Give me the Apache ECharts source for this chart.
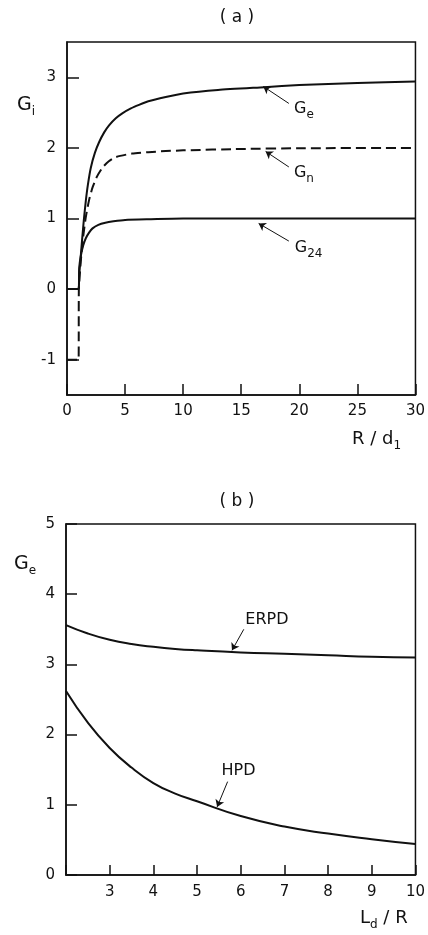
<!DOCTYPE html>
<html>
<head>
<meta charset="utf-8">
<script src="https://cdn.jsdelivr.net/npm/echarts@6/dist/echarts.min.js"></script>
<style>
  html, body { margin: 0; padding: 0; background: #fff; }
  #main { width: 428px; height: 935px; }
</style>
</head>
<body>
<div id="main"></div>
<script>
// panel (a): G_i vs R/d1
var geData  = [[0,0],[1,0],[1.05,0.2],[1.15,0.4],[1.3,0.7],[1.45,0.98],[1.62,1.25],[1.8,1.48],[2.05,1.72],[2.4,1.93],[2.76,2.08],[3.2,2.22],[3.62,2.32],[4.2,2.42],[4.76,2.49],[5.5,2.56],[6.2,2.61],[7,2.66],[8.5,2.72],[10,2.77],[13,2.82],[17,2.86],[20,2.89],[25,2.92],[30,2.94]];
var gnData  = [[0,-1],[1,-1],[1.02,0],[1.1,0.2],[1.2,0.42],[1.4,0.75],[1.62,1.02],[1.9,1.26],[2.2,1.44],[2.6,1.6],[3.05,1.72],[3.6,1.81],[4.2,1.87],[5.6,1.92],[7,1.94],[8.5,1.955],[10,1.965],[15,1.985],[20,1.995],[30,2]];
var g24Data = [[0,0],[1,0],[1.05,0.3],[1.2,0.48],[1.4,0.62],[1.62,0.72],[1.9,0.8],[2.2,0.86],[2.7,0.91],[3.3,0.94],[4,0.96],[5,0.98],[7,0.99],[10,1],[30,1]];
var ticksA  = [-1, 0, 1, 2, 3];

// panel (b): G_e vs Ld/R
var ldR  = [2, 2.5, 3, 3.5, 4, 4.5, 5, 6, 7, 8, 9, 10];
var erpd = [3.56, 3.44, 3.35, 3.29, 3.25, 3.22, 3.20, 3.17, 3.15, 3.13, 3.11, 3.10];
var hpd  = [2.62, 2.17, 1.81, 1.53, 1.31, 1.16, 1.05, 0.84, 0.69, 0.59, 0.51, 0.44];

var FONT = 'DejaVu Sans';
var myChart = echarts.init(document.getElementById('main'));

function pairs(xs, ys){
	var out = [];
	for (var i = 0; i < xs.length; i++) out.push([xs[i], ys[i]]);
	return out;
}

var rich = {
	m: {fontFamily: FONT, fontSize: 16, color: '#111', verticalAlign: 'top'},
	s: {fontFamily: FONT, fontSize: 12, color: '#111', verticalAlign: 'top', padding: [8, 0, 0, 0]}
};

function arrow(from, to){
	return {
		silent: true, symbol: ['none', 'arrow'], symbolSize: 7,
		lineStyle: {color: '#111', width: 1, type: 'solid'},
		label: {show: false},
		data: [[{coord: from}, {coord: to}]]
	};
}
function tag(pos, text){
	return {
		silent: true, symbol: 'circle', symbolSize: 0,
		label: {show: true, position: 'inside', formatter: text, rich: rich},
		data: [{coord: pos}]
	};
}

var axisText = {color: '#111', fontFamily: FONT, fontSize: 15};
var blackLine = {color: '#111', width: 1.5};

option = {
	animation: false,
	grid: [
		{left: 67, top: 42, right: 10, height: 353, show: true, borderColor: '#111', borderWidth: 1.5},
		{left: 66, top: 524, right: 10, height: 351, show: true, borderColor: '#111', borderWidth: 1.5}
	],
	xAxis: [
		{gridIndex: 0, type: 'value', min: 0, max: 30, interval: 5,
		 axisLine: {onZero: false, lineStyle: blackLine},
		 axisTick: {inside: true, length: 11, lineStyle: blackLine},
		 axisLabel: Object.assign({margin: 9}, axisText),
		 splitLine: {show: false}},
		{gridIndex: 1, type: 'value', min: 2, max: 10, interval: 1,
		 axisLine: {onZero: false, lineStyle: blackLine},
		 axisTick: {inside: true, length: 10, lineStyle: blackLine},
		 axisLabel: Object.assign({margin: 10, formatter: function(v){ return v === 2 ? '' : v; }}, axisText),
		 splitLine: {show: false}}
	],
	yAxis: [
		{gridIndex: 0, type: 'value', min: -1.5, max: 3.5,
		 axisLine: {onZero: false, lineStyle: blackLine},
		 axisTick: {inside: true, length: 12, customValues: ticksA, lineStyle: blackLine},
		 axisLabel: Object.assign({margin: 11, customValues: ticksA}, axisText),
		 splitLine: {show: false}},
		{gridIndex: 1, type: 'value', min: 0, max: 5, interval: 1,
		 axisLine: {onZero: false, lineStyle: blackLine},
		 axisTick: {inside: true, length: 11, lineStyle: blackLine},
		 axisLabel: Object.assign({margin: 11}, axisText),
		 splitLine: {show: false}}
	],
	series: [
		{name: 'Ge', type: 'line', xAxisIndex: 0, yAxisIndex: 0, data: geData,
		 showSymbol: false, smooth: 0.2, lineStyle: {color: '#111', width: 2},
		 markLine: arrow([19.1, 2.63], [16.9, 2.87]),
		 markPoint: tag([20.4, 2.52], '{m|G}{s|e}')},
		{name: 'Gn', type: 'line', xAxisIndex: 0, yAxisIndex: 0, data: gnData,
		 showSymbol: false, smooth: 0.2, lineStyle: {color: '#111', width: 2, type: [10, 5]},
		 markLine: arrow([19.1, 1.73], [17.1, 1.95]),
		 markPoint: tag([20.4, 1.62], '{m|G}{s|n}')},
		{name: 'G24', type: 'line', xAxisIndex: 0, yAxisIndex: 0, data: g24Data,
		 showSymbol: false, smooth: 0.2, lineStyle: {color: '#111', width: 2},
		 markLine: arrow([19.1, 0.68], [16.5, 0.93]),
		 markPoint: tag([20.8, 0.55], '{m|G}{s|24}')},
		{name: 'ERPD', type: 'line', xAxisIndex: 1, yAxisIndex: 1, data: pairs(ldR, erpd),
		 showSymbol: false, smooth: true, lineStyle: {color: '#111', width: 2},
		 markLine: arrow([6.07, 3.5], [5.8, 3.2]),
		 markPoint: tag([6.6, 3.64], '{m|ERPD}')},
		{name: 'HPD', type: 'line', xAxisIndex: 1, yAxisIndex: 1, data: pairs(ldR, hpd),
		 showSymbol: false, smooth: true, lineStyle: {color: '#111', width: 2},
		 markLine: arrow([5.7, 1.33], [5.46, 0.97]),
		 markPoint: tag([5.95, 1.48], '{m|HPD}')}
	],
	graphic: [
		{type: 'text', x: 237, y: 18, style: {text: '( a )', font: '17px ' + FONT, fill: '#111', textAlign: 'center', textVerticalAlign: 'middle'}},
		{type: 'text', x: 237, y: 502, style: {text: '( b )', font: '17px ' + FONT, fill: '#111', textAlign: 'center', textVerticalAlign: 'middle'}},
		{type: 'text', x: 17, y: 96, style: {text: '{m|G}{s|i}', rich: {
			m: {fontFamily: FONT, fontSize: 19, fill: '#111', verticalAlign: 'top'},
			s: {fontFamily: FONT, fontSize: 12, fill: '#111', verticalAlign: 'top', padding: [10, 0, 0, 0]}}}},
		{type: 'text', x: 352, y: 430, style: {text: '{m|R / d}{s|1}', rich: {
			m: {fontFamily: FONT, fontSize: 18, fill: '#111', verticalAlign: 'top'},
			s: {fontFamily: FONT, fontSize: 12, fill: '#111', verticalAlign: 'top', padding: [10, 0, 0, 0]}}}},
		{type: 'text', x: 14, y: 555, style: {text: '{m|G}{s|e}', rich: {
			m: {fontFamily: FONT, fontSize: 19, fill: '#111', verticalAlign: 'top'},
			s: {fontFamily: FONT, fontSize: 12, fill: '#111', verticalAlign: 'top', padding: [10, 0, 0, 0]}}}},
		{type: 'text', x: 360, y: 909, style: {text: '{m|L}{s|d}{m| / R}', rich: {
			m: {fontFamily: FONT, fontSize: 18, fill: '#111', verticalAlign: 'top'},
			s: {fontFamily: FONT, fontSize: 12, fill: '#111', verticalAlign: 'top', padding: [10, 0, 0, 0]}}}}
	]
};

myChart.setOption(option);
</script>
</body>
</html>
